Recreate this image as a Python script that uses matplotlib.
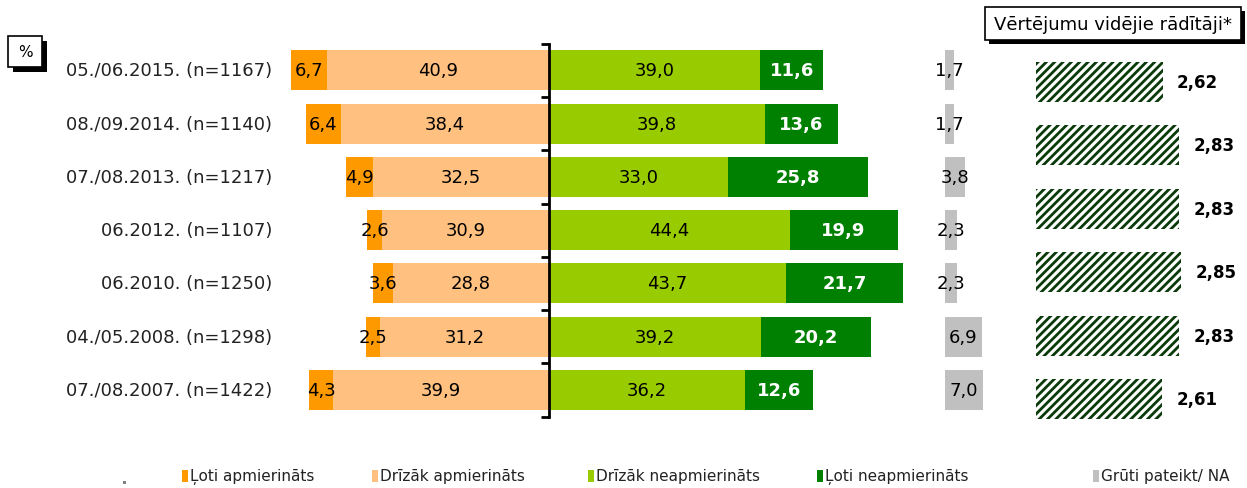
import matplotlib
matplotlib.use("Agg")
import matplotlib.pyplot as plt
from matplotlib.patches import Rectangle
from matplotlib.transforms import blended_transform_factory

# ---------------- data ----------------
categories = ["05./06.2015. (n=1167)", "08./09.2014. (n=1140)", "07./08.2013. (n=1217)",
              "06.2012. (n=1107)", "06.2010. (n=1250)", "04./05.2008. (n=1298)",
              "07./08.2007. (n=1422)"]
very_sat = [6.7, 6.4, 4.9, 2.6, 3.6, 2.5, 4.3]
rather_sat = [40.9, 38.4, 32.5, 30.9, 28.8, 31.2, 39.9]
rather_unsat = [39.0, 39.8, 33.0, 44.4, 43.7, 39.2, 36.2]
very_unsat = [11.6, 13.6, 25.8, 19.9, 21.7, 20.2, 12.6]
hard_na = [1.7, 1.7, 3.8, 2.3, 2.3, 6.9, 7.0]
mean_scores = [2.62, 2.83, 2.83, 2.85, 2.83, 2.61]
legend_labels = ["Ļoti apmierināts", "Drīzāk apmierināts", "Drīzāk neapmierināts",
                 "Ļoti neapmierināts", "Grūti pateikt/ NA"]
mean_title = "Vērtējumu vidējie rādītāji*"

# ---------------- style ----------------
C_VS = "#FF9900"
C_RS = "#FFC080"
C_RU = "#99CC00"
C_VU = "#008000"
C_NA = "#C0C0C0"
C_HATCH = "#0A3A0A"
FONT = "DejaVu Sans"
plt.rcParams["font.family"] = [FONT]
plt.rcParams["hatch.linewidth"] = 2.0

W, H = 1247, 489
fig = plt.figure(figsize=(W / 100, H / 100), dpi=100)


def fx(px):
    return px / W


def fy(py):
    return 1 - py / H


def fmt(v, d=1):
    return f"{v:.{d}f}".replace(".", ",")


# ---------------- main diverging axes ----------------
PXU = 5.42
AX_L, AX_R, AX_T, AX_B = 290, 1000, 44.6, 417.7
CENTER = 549
ax = fig.add_axes([fx(AX_L), fy(AX_B), fx(AX_R - AX_L), (AX_B - AX_T) / H])
ax.set_xlim(-(CENTER - AX_L) / PXU, (AX_R - CENTER) / PXU)
ax.set_ylim(len(categories) - 0.5, -0.5)

y = list(range(len(categories)))
bh = 0.75
left_rs = [-v for v in rather_sat]
left_vs = [-(a + b) for a, b in zip(rather_sat, very_sat)]
ax.barh(y, rather_sat, left=left_rs, height=bh, color=C_RS, linewidth=0)
ax.barh(y, very_sat, left=left_vs, height=bh, color=C_VS, linewidth=0)
ax.barh(y, rather_unsat, left=0, height=bh, color=C_RU, linewidth=0)
ax.barh(y, very_unsat, left=rather_unsat, height=bh, color=C_VU, linewidth=0)
GRAY_START = 73
ax.barh(y, hard_na, left=GRAY_START, height=bh, color=C_NA, linewidth=0)

fs = 13
for i in y:
    ax.text(left_vs[i] + very_sat[i] / 2, i, fmt(very_sat[i]), ha="center", va="center",
            fontsize=fs, color="black")
    ax.text(left_rs[i] + rather_sat[i] / 2, i, fmt(rather_sat[i]), ha="center", va="center",
            fontsize=fs, color="black")
    ax.text(rather_unsat[i] / 2, i, fmt(rather_unsat[i]), ha="center", va="center",
            fontsize=fs, color="black")
    ax.text(rather_unsat[i] + very_unsat[i] / 2, i, fmt(very_unsat[i]), ha="center",
            va="center", fontsize=fs, color="white", fontweight="bold")
    ax.text(GRAY_START + hard_na[i] / 2, i, fmt(hard_na[i]), ha="center", va="center",
            fontsize=fs, color="black")

# category labels
trans = blended_transform_factory(ax.transAxes, ax.transData)
for i, lab in enumerate(categories):
    ax.text((272 - AX_L) / (AX_R - AX_L), i, lab, transform=trans, ha="right",
            va="center", fontsize=13, color="#222222")

for s in ["top", "right", "bottom"]:
    ax.spines[s].set_visible(False)
ax.spines["left"].set_position(("data", 0))
ax.spines["left"].set_linewidth(2)
ax.set_yticks([i - 0.5 for i in range(len(categories) + 1)])
ax.set_yticklabels([])
ax.tick_params(axis="y", direction="out", length=6, width=2)
ax.set_xticks([])
ax.patch.set_visible(False)

# ---------------- mean score axes ----------------
M_L, M_R = 1036, 1247
M_T, M_B = 51.3, 431.7
MPX = 78.4
ax2 = fig.add_axes([fx(M_L), fy(M_B), fx(M_R - M_L), (M_B - M_T) / H])
ax2.set_xlim(1, 1 + (M_R - M_L) / MPX)
ax2.set_ylim(len(mean_scores) - 0.5, -0.5)
ym = list(range(len(mean_scores)))
ax2.barh(ym, [m - 1 for m in mean_scores], left=1, height=0.63, facecolor="white",
         edgecolor=C_HATCH, hatch="////", linewidth=0)
for i, m in enumerate(mean_scores):
    ax2.text(m + 0.18, i, fmt(m, 2), ha="left", va="center", fontsize=12,
             fontweight="bold", color="black")
ax2.axis("off")

# ---------------- boxes with shadow ----------------
def shadow_box(x0, y0, x1, y1, text, size, off=4):
    fig.patches.append(Rectangle((fx(x0 + off), fy(y1 + off)), fx(x1 - x0), (y1 - y0) / H,
                                 transform=fig.transFigure, facecolor="black",
                                 edgecolor="none", zorder=1))
    fig.patches.append(Rectangle((fx(x0), fy(y1)), fx(x1 - x0), (y1 - y0) / H,
                                 transform=fig.transFigure, facecolor="white",
                                 edgecolor="black", linewidth=1.2, zorder=2))
    fig.text(fx((x0 + x1) / 2), fy((y0 + y1) / 2), text, ha="center", va="center",
             fontsize=size, color="black", zorder=3)


shadow_box(985, 8, 1241, 41, mean_title, 13)
shadow_box(8, 37, 42, 68, "%", 11, off=5)

# ---------------- legend ----------------
LEG_Y = 477
leg_colors = [C_VS, C_RS, C_RU, C_VU, C_NA]
leg_x = [182, 372, 588, 817, 1093]
for lx, col, lab in zip(leg_x, leg_colors, legend_labels):
    fig.patches.append(Rectangle((fx(lx), fy(LEG_Y + 6)), fx(6), 12 / H,
                                 transform=fig.transFigure, facecolor=col,
                                 edgecolor="none"))
    fig.text(fx(lx + 8), fy(LEG_Y), lab, ha="left", va="center", fontsize=11,
             color="#222222")
fig.patches.append(Rectangle((fx(123), fy(485)), fx(3), 3 / H,
                             transform=fig.transFigure, facecolor="#808080",
                             edgecolor="none"))

fig.savefig("out.png", dpi=100, facecolor="white")
